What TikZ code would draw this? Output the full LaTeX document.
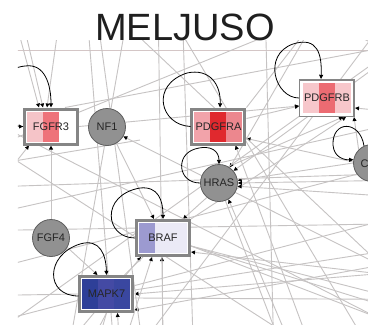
\documentclass[tikz,border=0pt]{standalone}
\usepackage{fontspec}
\setmainfont{Liberation Sans}
\usetikzlibrary{arrows.meta,calc}
\pgfdeclarelayer{bg}
\pgfsetlayers{bg,main}
\definecolor{edgegray}{HTML}{C6C3C3}
\definecolor{edgepink}{HTML}{D4C6C6}
\definecolor{boxborder}{HTML}{858585}
\definecolor{circfill}{HTML}{919191}
\definecolor{circborder}{HTML}{5E5E5E}
\definecolor{labeltext}{HTML}{262626}
\definecolor{fgA}{HTML}{F5C4C8}\definecolor{fgB}{HTML}{EE737A}\definecolor{fgC}{HTML}{FFFFFF}
\definecolor{paA}{HTML}{F2A3AA}\definecolor{paB}{HTML}{E0292E}\definecolor{paC}{HTML}{EC878E}
\definecolor{pbA}{HTML}{F7C7CB}\definecolor{pbB}{HTML}{EC6B72}\definecolor{pbC}{HTML}{F7C7CB}
\definecolor{brA}{HTML}{9C9AD0}\definecolor{brB}{HTML}{EBEAF6}\definecolor{brC}{HTML}{EBEAF6}
\definecolor{mkA}{HTML}{2E3F98}\definecolor{mkB}{HTML}{444AA4}\definecolor{mkC}{HTML}{3A47A0}
\newcommand\mystripes[4]{%
  \fill[#2] let \p1=(path picture bounding box.south west), \p2=(path picture bounding box.north east), \n1={(\x2-\x1-2*#1)/3} in (\x1+#1,\y1+#1) rectangle (\x1+#1+\n1,\y2-#1);
  \fill[#3] let \p1=(path picture bounding box.south west), \p2=(path picture bounding box.north east), \n1={(\x2-\x1-2*#1)/3} in (\x1+#1+\n1,\y1+#1) rectangle (\x1+#1+2*\n1,\y2-#1);
  \fill[#4] let \p1=(path picture bounding box.south west), \p2=(path picture bounding box.north east), \n1={(\x2-\x1-2*#1)/3} in (\x1+#1+2*\n1,\y1+#1) rectangle (\x2-#1,\y2-#1);
}
\tikzset{
  edge/.style={draw=edgegray, line width=0.9pt},
  tip/.style={-{Triangle[length=4pt,width=3.8pt,color=black]}},
  selfloop/.style={draw=black, line width=0.8pt, -{Triangle[length=4.2pt,width=4pt]}},
  labelfont/.style={font=\fontsize{11}{11}\selectfont, text=labeltext},
  genecircle/.style={circle, draw=circborder, fill=circfill, line width=0.8pt, minimum size=37pt, inner sep=0pt, labelfont},
  thickbox/.style n args={3}{rectangle, draw=boxborder, line width=3pt, fill=white, minimum width=53pt, minimum height=35pt, inner sep=0pt, labelfont, path picture={\mystripes{2.5pt}{#1}{#2}{#3}}},
  thinbox/.style n args={3}{rectangle, draw=boxborder, line width=1.5pt, fill=white, minimum width=54.5pt, minimum height=36.5pt, inner sep=0pt, labelfont, path picture={\mystripes{3.3pt}{#1}{#2}{#3}}},
}
\begin{document}
\begin{tikzpicture}[x=1pt,y=-1pt]
\useasboundingbox (0,0) rectangle (368,325);
\node[anchor=base, font=\fontsize{38}{38}\selectfont, text=black!88] (title) at (185,40) {MELJUSO};

% nodes
\node[thickbox={fgA}{fgB}{fgC}] (FGFR3) at (51,126.5) {FGFR3};
\node[genecircle] (NF1) at (107,127) {NF1};
\node[thickbox={paA}{paB}{paC}] (PDGFRA) at (218.5,126.5) {PDGFRA};
\node[thinbox={pbA}{pbB}{pbC}] (PDGFRB) at (327,98) {PDGFRB};
\node[genecircle] (HRAS) at (219,183) {HRAS};
\node[genecircle] (C) at (372,163) {};
\node[labelfont, anchor=west] (Clabel) at (357,164) {C};
\node[genecircle] (FGF4) at (51,238) {FGF4};
\node[thickbox={brA}{brB}{brC}] (BRAF) at (163,238) {BRAF};
\node[thickbox={mkA}{mkB}{mkC}, text=black!85] (MAPK7) at (106.5,294) {MAPK7};

% off-canvas coordinates
\coordinate (h1) at (10,0); \coordinate (h2) at (18,0); \coordinate (h3) at (62,0);
\coordinate (h4) at (-60,127); \coordinate (h5) at (-30,220); \coordinate (h6) at (600,7);
\coordinate (h7) at (86,0); \coordinate (h8) at (118,400);
\coordinate (h9) at (450,300); \coordinate (h10) at (330,400); \coordinate (h11) at (480,190);
\coordinate (h12) at (480,120); \coordinate (h13) at (520,178); \coordinate (h14) at (520,205);
\coordinate (h15) at (440,20); \coordinate (hT) at (318,15);
\coordinate (h16) at (314,400); \coordinate (h17) at (302,400);
\coordinate (h18) at (4,420); \coordinate (h19) at (100,420); \coordinate (h20) at (162,420);
\coordinate (h21) at (520,290); \coordinate (h22) at (520,348); \coordinate (h23) at (520,372); \coordinate (h24) at (520,330);
\coordinate (h25) at (520,262); \coordinate (h26) at (520,240); \coordinate (h27) at (125,440);
\coordinate (h28) at (-100,297); \coordinate (h29) at (40,440); \coordinate (h30) at (70,440);
\coordinate (h31) at (520,230); \coordinate (h32) at (520,300); \coordinate (h33) at (95,0); \coordinate (h34) at (150,400);
\coordinate (hL) at (-100,185); \coordinate (hR) at (500,110);
\coordinate (pa) at (-200,50); \coordinate (pb) at (600,50);
\coordinate (p1) at (-50,100); \coordinate (p2) at (500,380);
\coordinate (p3) at (0,150); \coordinate (p4) at (420,420);
\coordinate (p5) at (100,0); \coordinate (p6) at (450,330);
\coordinate (p7) at (150,-20); \coordinate (p8) at (400,400);
\coordinate (p9) at (-50,280); \coordinate (p10) at (450,150);
\coordinate (p11) at (0,330); \coordinate (p12) at (420,30);
\coordinate (p13) at (-80,230); \coordinate (p14) at (500,100);
\coordinate (p15) at (100,400); \coordinate (p16) at (400,0);
\coordinate (p17) at (158,0); \coordinate (p18) at (164,400);
\coordinate (p19) at (182,0); \coordinate (p20) at (195,400);
\coordinate (p21) at (265,0); \coordinate (p22) at (275,400);
\coordinate (p23) at (-100,232); \coordinate (p24) at (500,222);
\coordinate (p25) at (-100,190); \coordinate (p26) at (500,170);
\coordinate (p27) at (-20,326); \coordinate (p28) at (500,190);
\coordinate (p29) at (130,0); \coordinate (p30) at (60,400);
\coordinate (p31) at (-40,170); \coordinate (p32) at (140,140);

\begin{pgfonlayer}{bg}
\fill[white] (0,0) rectangle (368,325);
\clip (18,40) rectangle (368,325);
\draw[edge, draw=edgepink] (pa) -- (pb);
% FGFR3
\draw[edge,tip] (h1) -- ([xshift=-12pt]FGFR3.north);
\draw[edge,tip] (h2) -- ([xshift=-8pt]FGFR3.north);
\draw[edge,tip] (h3) -- ([xshift=-4pt]FGFR3.north);
\draw[edge,tip] (h4) -- (FGFR3.west);
\draw[edge,tip] (h5) -- ([xshift=-22pt]FGFR3.south);
\draw[edge,tip] (FGF4.north) -- (FGFR3.south);
\draw[edge] ([xshift=14pt]FGFR3.north) -- (h6);
\draw[edge,tip] (FGFR3.east) -- ([yshift=-8pt]PDGFRB.west);
% NF1
\draw[edge,tip] (h9) -- (NF1.-30);
\draw[edge,tip] (NF1.-60) -- ([xshift=-9pt]BRAF.north);
% PDGFRA
\draw[edge,tip] (h10) -- ([xshift=17pt]PDGFRA.south);
\draw[edge,tip] (h11) -- ([yshift=-12pt]PDGFRA.east);
\draw[edge,tip] ([yshift=8pt]PDGFRA.east) -- ([yshift=-8pt]PDGFRB.west);
\draw[edge] (hT) -- (PDGFRA.north east);
% PDGFRB
\draw[edge,tip] (h12) -- ([yshift=-10pt]PDGFRB.east);
\draw[edge,tip] (HRAS.60) -- ([xshift=16pt]PDGFRB.south);
\draw[edge,tip] (BRAF.north east) -- ([xshift=19pt]PDGFRB.south);
\draw[edge,tip] (C.135) -- ([xshift=27pt]PDGFRB.south);
% HRAS
\draw[edge,tip] (h13) -- (HRAS.east);
\draw[edge,tip] (h14) -- (HRAS.-10);
\draw[edge,tip] (C.180) -- (HRAS.8);
\draw[edge,tip] (h15) -- (HRAS.40);
\draw[edge,tip] (hT) -- (HRAS.55);
\draw[edge,tip] (h16) -- (HRAS.-60);
\draw[edge] (h17) -- (HRAS.-70);
\draw[edge,tip] (HRAS.-130) -- ([xshift=20pt]BRAF.north);
% BRAF
\draw[edge,tip] (h18) -- ([xshift=-22pt]BRAF.south);
\draw[edge,tip] (h19) -- ([xshift=-11pt]BRAF.south);
\draw[edge,tip] (h20) -- ([xshift=-1pt]BRAF.south);
\draw[edge,tip] (h21) -- ([yshift=-14pt]BRAF.east);
\draw[edge] ([yshift=-8pt]BRAF.east) -- (h22);
\draw[edge] ([yshift=-8pt]BRAF.east) -- (h23);
\draw[edge] ([yshift=-8pt]BRAF.east) -- (h24);
\draw[edge] ([xshift=-20pt]BRAF.south) -- ([xshift=18pt]MAPK7.north);
% MAPK7
\draw[edge,tip] (FGF4.-30) -- ([xshift=-9pt]MAPK7.north);
\draw[edge,tip] (h25) -- (MAPK7.east);
\draw[edge,tip] (h26) -- ([yshift=-16pt]MAPK7.east);
\draw[edge,tip] (h27) -- ([xshift=11pt]MAPK7.south);
\draw[edge] (h28) -- (MAPK7.west);
\draw[edge] (MAPK7.south) -- (h29);
\draw[edge] (MAPK7.south) -- (h30);
\draw[edge] ([yshift=4pt]MAPK7.east) -- (h31);
\draw[edge] ([yshift=-4pt]MAPK7.east) -- (h32);
% pass-through
\draw[edge] (h7) -- (h8);
\draw[edge] (h33) -- (h34);
\draw[edge] (hT) -- (hL);
\draw[edge] (hT) -- (hR);
\draw[edge] (p1) -- (p2);
\draw[edge] (p3) -- (p4);
\draw[edge] (p5) -- (p6);
\draw[edge] (p7) -- (p8);
\draw[edge] (p9) -- (p10);
\draw[edge] (p11) -- (p12);
\draw[edge] (p13) -- (p14);
\draw[edge] (p15) -- (p16);
\draw[edge] (p17) -- (p18);
\draw[edge] (p19) -- (p20);
\draw[edge] (p21) -- (p22);
\draw[edge] (p23) -- (p24);
\draw[edge] (p25) -- (p26);
\draw[edge] (p27) -- (p28);
\draw[edge] (p29) -- (p30);
\draw[edge] (p31) -- (p32);
\end{pgfonlayer}

% self loops
\begin{scope}
\clip (18,40) rectangle (368,325);
\draw[selfloop] (FGFR3.west) .. controls (-10,126) and (-15,70) .. (25,66) .. controls (45,63) and (51,85) .. (FGFR3.north);
\draw[selfloop] (PDGFRA.west) .. controls (160,125) and (150,85) .. (187,73) .. controls (210,68) and (221,85) .. ([xshift=1.5pt]PDGFRA.north);
\draw[selfloop] (PDGFRB.west) .. controls (275,98) and (262,55) .. (293,44) .. controls (318,36) and (322,55) .. ([xshift=-6pt]PDGFRB.north);
\draw[selfloop] (C.115) .. controls (360,120) and (332,120) .. (333,145) .. controls (334,158) and (345,160) .. (C.170);
\draw[selfloop] (HRAS.west) .. controls (178,183) and (175,155) .. (195,149) .. controls (212,144) and (219,152) .. (HRAS.north);
\draw[selfloop] (BRAF.west) .. controls (105,238) and (100,195) .. (140,188) .. controls (158,186) and (163,200) .. (BRAF.north);
\draw[selfloop] ([yshift=-2pt]MAPK7.west) .. controls (45,296) and (45,255) .. (80,244) .. controls (100,238) and (106,255) .. (MAPK7.north);
\end{scope}
\end{tikzpicture}
\end{document}
